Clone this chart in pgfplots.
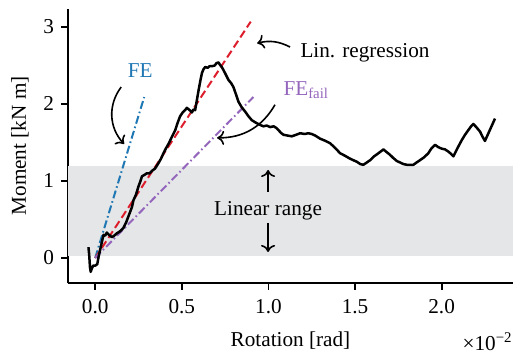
\documentclass[border=0pt]{standalone}
\usepackage{fontspec}
\setmainfont{Liberation Serif}
\usepackage{pgfplots}
\pgfplotsset{compat=1.18}
\usetikzlibrary{arrows.meta}
\definecolor{feblue}{RGB}{31,119,180}
\definecolor{regred}{RGB}{220,30,45}
\definecolor{fepurple}{RGB}{148,103,189}
\definecolor{linfill}{RGB}{229,230,232}
\begin{document}
\fontsize{10.6}{12.7}\selectfont
\begin{tikzpicture}
\begin{axis}[
  at={(0,0)}, anchor=south west,
  scale only axis, width=222.5pt, height=137.4pt,
  axis lines=left, axis line style={-, line width=0.9pt},
  xmin=-0.157, xmax=2.412, ymin=-0.329, ymax=3.24,
  xtick={0,0.5,1,1.5,2}, ytick={0,1,2,3},
  xticklabels={0.0,0.5,1.0,1.5,2.0},
  tick align=outside, major tick length=3.3pt,
  tick style={line width=0.9pt, black},
  /pgf/number format/assume math mode=true,
  xticklabel style={yshift=-1pt},
  xlabel={Rotation [rad]}, ylabel={Moment [kN m]},
  xlabel style={yshift=-1.5pt},
  clip=false,
]
\fill[linfill] (axis cs:-0.157,0.03) rectangle (axis cs:2.412,1.19);
\addplot[feblue, line width=1pt, dash pattern=on 4pt off 1.5pt on 0.8pt off 1.5pt] coordinates {(0,0) (0.283,2.09)};
\addplot[regred, line width=1pt, dash pattern=on 4pt off 2pt] coordinates {(0,0) (0.898,3.07)};
\addplot[fepurple, line width=1pt, dash pattern=on 4pt off 1.5pt on 0.8pt off 1.5pt] coordinates {(0,0) (0.913,2.09)};
\addplot[black, line width=1.25pt, line join=round] coordinates {
(-0.039,0.14) (-0.035,0.05) (-0.03,-0.12) (-0.026,-0.18) (-0.02,-0.14) (-0.012,-0.10) (0.0,-0.10) (0.012,-0.08) (0.02,0.02) (0.03,0.12) (0.04,0.22) (0.048,0.30) (0.058,0.29) (0.067,0.33) (0.08,0.30) (0.096,0.27) (0.11,0.29) (0.125,0.32) (0.14,0.34) (0.163,0.39) (0.18,0.47) (0.19,0.53) (0.202,0.60) (0.212,0.66) (0.221,0.75) (0.235,0.82) (0.25,0.93) (0.26,0.99) (0.27,1.06) (0.285,1.08) (0.298,1.10) (0.315,1.10) (0.327,1.13) (0.345,1.16) (0.365,1.23) (0.38,1.29) (0.394,1.36) (0.41,1.43) (0.423,1.48) (0.44,1.56) (0.462,1.66) (0.475,1.75) (0.49,1.84) (0.505,1.89) (0.519,1.92) (0.529,1.95) (0.54,1.93) (0.55,1.91) (0.558,1.89) (0.568,1.93) (0.577,1.92) (0.587,2.05) (0.597,2.18) (0.607,2.30) (0.616,2.40) (0.625,2.45) (0.635,2.48) (0.65,2.47) (0.66,2.49) (0.673,2.49) (0.69,2.50) (0.70,2.53) (0.712,2.54) (0.72,2.51) (0.731,2.48) (0.75,2.40) (0.77,2.31) (0.785,2.27) (0.798,2.22) (0.812,2.13) (0.827,2.03) (0.845,1.96) (0.866,1.90) (0.885,1.84) (0.904,1.79) (0.925,1.76) (0.942,1.74) (0.96,1.72) (0.971,1.71) (0.99,1.72) (1.01,1.70) (1.03,1.71) (1.045,1.69) (1.058,1.66) (1.075,1.62) (1.087,1.60) (1.11,1.59) (1.135,1.58) (1.16,1.60) (1.183,1.62) (1.21,1.61) (1.23,1.62) (1.25,1.61) (1.27,1.59) (1.298,1.55) (1.33,1.52) (1.356,1.49) (1.385,1.43) (1.414,1.36) (1.44,1.33) (1.471,1.29) (1.49,1.27) (1.51,1.25) (1.53,1.22) (1.548,1.21) (1.568,1.24) (1.587,1.27) (1.61,1.32) (1.635,1.36) (1.664,1.41) (1.68,1.38) (1.702,1.34) (1.72,1.30) (1.741,1.26) (1.76,1.24) (1.779,1.22) (1.80,1.21) (1.837,1.21) (1.855,1.24) (1.875,1.27) (1.90,1.31) (1.923,1.36) (1.94,1.42) (1.962,1.47) (1.98,1.44) (2.0,1.42) (2.02,1.41) (2.04,1.38) (2.055,1.35) (2.068,1.32) (2.09,1.42) (2.116,1.53) (2.135,1.60) (2.154,1.66) (2.17,1.71) (2.183,1.74) (2.20,1.70) (2.222,1.64) (2.235,1.58) (2.25,1.52) (2.27,1.62) (2.29,1.72) (2.308,1.81)
};
% annotations
\node[feblue] at (axis cs:0.26,2.43) {FE};
\draw[-{To[length=3.5pt,width=7pt]}, line width=0.8pt] (axis cs:0.15,2.22) to[bend right=40] (axis cs:0.167,1.48);
\node[anchor=west, inner sep=0pt] at (axis cs:1.183,2.66) {Lin. regression};
\draw[-{To[length=3.5pt,width=7pt]}, line width=0.8pt] (axis cs:1.125,2.74) to[bend right=20] (axis cs:0.935,2.79);
\node[fepurple, anchor=west, inner sep=0pt] at (axis cs:1.085,2.18) {FE\textsubscript{fail}};
\draw[-{To[length=3.5pt,width=7pt]}, line width=0.8pt] (axis cs:1.038,1.99) to[bend left=30] (axis cs:0.704,1.56);
\node at (axis cs:0.998,0.61) {Linear range};
\draw[-{To[length=3.5pt,width=7pt]}, line width=0.8pt] (axis cs:0.998,0.857) -- (axis cs:0.998,1.143);
\draw[-{To[length=3.5pt,width=7pt]}, line width=0.8pt] (axis cs:0.998,0.455) -- (axis cs:0.998,0.078);
\node[anchor=east, inner sep=0pt] at (rel axis cs:1,0) [yshift=-29pt] {×10\textsuperscript{−2}};
\end{axis}
\pgfresetboundingbox
\path[use as bounding box] (-34pt,-35.35pt) rectangle (222.5pt,141.65pt);
\end{tikzpicture}
\end{document}
